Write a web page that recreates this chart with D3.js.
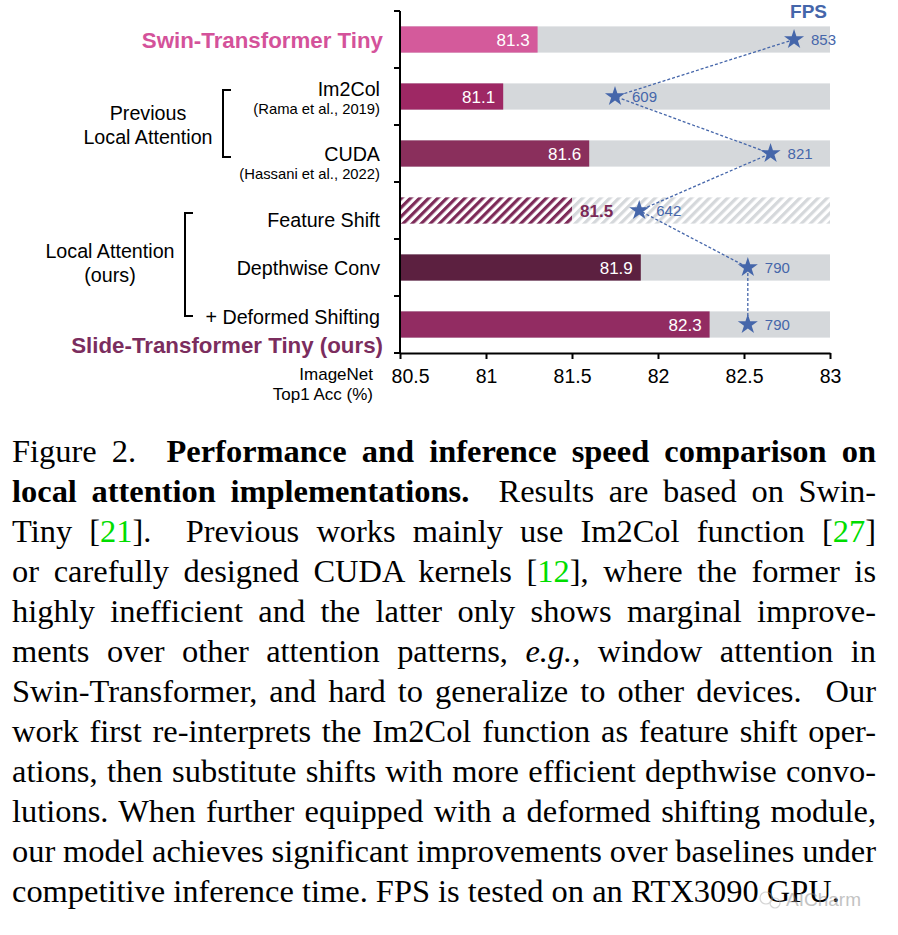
<!DOCTYPE html>
<html><head><meta charset="utf-8">
<script src="https://cdn.jsdelivr.net/npm/d3@7"></script>
<style>body{margin:0;background:#fff} svg{display:block}</style>
</head><body>
<svg id="c" width="898" height="935"></svg>
<script>
// ---------------- data ----------------
const categories = ["Swin-Transformer Tiny", "Im2Col", "CUDA", "Feature Shift", "Depthwise Conv", "+ Deformed Shifting"];
const accuracy = [81.3, 81.1, 81.6, 81.5, 81.9, 82.3];
const fps = [853, 609, 821, 642, 790, 790];
const xTicks = [80.5, 81, 81.5, 82, 82.5, 83];
const subLabels = ["", "(Rama et al., 2019)", "(Hassani et al., 2022)", "", "", ""];
const finalLabel = "Slide-Transformer Tiny (ours)";
const groupPrev = ["Previous", "Local Attention"];
const groupOurs = ["Local Attention", "(ours)"];
const axisTitle = ["ImageNet", "Top1 Acc (%)"];
const fpsTitle = "FPS";
const captionLines = [
  [["Figure 2.  ", "n"], ["Performance and inference speed comparison on", "b"]],
  [["local attention implementations.", "b"], ["  Results are based on Swin-", "n"]],
  [["Tiny [", "n"], ["21", "g"], ["].  Previous works mainly use Im2Col function [", "n"], ["27", "g"], ["]", "n"]],
  [["or carefully designed CUDA kernels [", "n"], ["12", "g"], ["], where the former is", "n"]],
  [["highly inefficient and the latter only shows marginal improve-", "n"]],
  [["ments over other attention patterns, ", "n"], ["e.g.,", "i"], [" window attention in", "n"]],
  [["Swin-Transformer, and hard to generalize to other devices.  Our", "n"]],
  [["work first re-interprets the Im2Col function as feature shift oper-", "n"]],
  [["ations, then substitute shifts with more efficient depthwise convo-", "n"]],
  [["lutions. When further equipped with a deformed shifting module,", "n"]],
  [["our model achieves significant improvements over baselines under", "n"]],
  [["competitive inference time. FPS is tested on an RTX3090 GPU.", "n"]]
];

// ---------------- styles ----------------
const barColors = ["#d45a9b", "#9e2864", "#8a2f5c", "#7d2a58", "#5c2040", "#922c62"];
const greyBg = "#d5d8db";
const blue = "#4566aa";
const sans = "'Liberation Sans', Arial, sans-serif";
const serif = "'Liberation Serif', 'Times New Roman', serif";
const labelDy = [0, -8, 0, 9, 0, -8];
const subDy = [0, 12.5, 20.5, 0, 0, 0];

const svg = d3.select("#c");
const defs = svg.append("defs");
function hatch(id, color) {
  const p = defs.append("pattern").attr("id", id).attr("patternUnits", "userSpaceOnUse")
    .attr("width", 6.4).attr("height", 6.4).attr("patternTransform", "rotate(45)");
  p.append("rect").attr("width", 6.4).attr("height", 6.4).attr("fill", "#fff");
  p.append("rect").attr("width", 3.2).attr("height", 6.4).attr("fill", color);
}
hatch("hDark", barColors[3]);
hatch("hGrey", greyBg);

// ---------------- scales ----------------
const x = d3.scaleLinear().domain([80.5, 83]).range([400, 830]);
const y = d3.scaleBand().domain(categories).range([11, 353]).paddingInner(0.54).paddingOuter(0.27);
const fpsX = d3.scaleLinear().domain([316, 902]).range([400, 830]);
const bw = y.bandwidth();
const cy = c => y(c) + bw / 2;

const rows = categories.map((c, i) => ({c, i, acc: accuracy[i], fps: fps[i]}));

// background bars
svg.append("g").selectAll("rect").data(rows).join("rect")
  .attr("x", x(80.5)).attr("y", d => y(d.c)).attr("height", bw)
  .attr("width", x(83) - x(80.5))
  .attr("fill", d => d.i === 3 ? "url(#hGrey)" : greyBg);

// value bars
svg.append("g").selectAll("rect").data(rows).join("rect")
  .attr("x", x(80.5)).attr("y", d => y(d.c)).attr("height", bw)
  .attr("width", d => x(d.acc) - x(80.5))
  .attr("fill", d => d.i === 3 ? "url(#hDark)" : barColors[d.i]);

// value labels
svg.append("g").selectAll("text").data(rows).join("text")
  .attr("x", d => d.i === 3 ? x(d.acc) + 8 : x(d.acc) - 8)
  .attr("y", d => cy(d.c)).attr("dy", "0.36em")
  .attr("text-anchor", d => d.i === 3 ? "start" : "end")
  .attr("font-family", sans).attr("font-size", 17)
  .attr("font-weight", d => d.i === 3 ? "bold" : "normal")
  .attr("fill", d => d.i === 3 ? "#7b2a58" : "#fff")
  .text(d => d.acc.toFixed(1));

// FPS line + stars
svg.append("path").datum(rows)
  .attr("d", d3.line().x(d => fpsX(d.fps)).y(d => cy(d.c)))
  .attr("fill", "none").attr("stroke", blue).attr("stroke-width", 1.3).attr("stroke-dasharray", "3,2");
svg.append("g").selectAll("path").data(rows).join("path")
  .attr("d", d3.symbol(d3.symbolStar, 125))
  .attr("transform", d => `translate(${fpsX(d.fps)},${cy(d.c)})`)
  .attr("fill", blue);
svg.append("g").selectAll("text").data(rows).join("text")
  .attr("x", d => fpsX(d.fps) + 17).attr("y", d => cy(d.c)).attr("dy", "0.36em")
  .attr("font-family", sans).attr("font-size", 15).attr("fill", blue)
  .text(d => d.fps);
svg.append("text").attr("x", 827).attr("y", 18).attr("text-anchor", "end")
  .attr("font-family", sans).attr("font-size", 19).attr("font-weight", "bold").attr("fill", blue)
  .text(fpsTitle);

// x axis
const xa = svg.append("g").attr("transform", "translate(0,353)")
  .call(d3.axisBottom(x).tickValues(xTicks).tickSize(6).tickSizeOuter(0).tickPadding(10).tickFormat(d3.format("")));
xa.select(".domain").attr("stroke", "#000").attr("stroke-width", 2);
xa.selectAll(".tick line").attr("stroke", "#000").attr("stroke-width", 2);
xa.selectAll(".tick text").attr("font-family", sans).attr("font-size", 19.5).attr("fill", "#000")
  .attr("dx", (d, i) => i === 0 ? 10 : 0);

// y axis line and ticks at band boundaries
const y0 = y.range()[0], step = y.step();
svg.append("line").attr("x1", x(80.5)).attr("x2", x(80.5)).attr("y1", y0).attr("y2", y0 + step * categories.length)
  .attr("stroke", "#000").attr("stroke-width", 2);
svg.append("g").selectAll("line").data(d3.range(categories.length + 1)).join("line")
  .attr("x1", x(80.5) - 6).attr("x2", x(80.5)).attr("y1", i => y0 + i * step).attr("y2", i => y0 + i * step)
  .attr("stroke", "#000").attr("stroke-width", 2);

// category labels
svg.append("g").selectAll("text").data(rows).join("text")
  .attr("x", d => d.i === 0 ? 383 : 380)
  .attr("y", d => cy(d.c) + labelDy[d.i]).attr("dy", "0.36em")
  .attr("text-anchor", "end").attr("font-family", sans)
  .attr("font-size", d => d.i === 0 ? 22.3 : 19.7)
  .attr("font-weight", d => d.i === 0 ? "bold" : "normal")
  .attr("fill", d => d.i === 0 ? "#d4529a" : "#000")
  .text(d => d.c);
svg.append("g").selectAll("text").data(rows.filter(d => subLabels[d.i])).join("text")
  .attr("x", 380).attr("y", d => cy(d.c) + subDy[d.i]).attr("dy", "0.36em")
  .attr("text-anchor", "end").attr("font-family", sans).attr("font-size", 14.8).attr("fill", "#000")
  .text(d => subLabels[d.i]);
svg.append("text").attr("x", 383).attr("y", cy(categories[5]) + 20).attr("dy", "0.36em")
  .attr("text-anchor", "end").attr("font-family", sans).attr("font-size", 22.3).attr("font-weight", "bold")
  .attr("fill", "#7b2d5e").text(finalLabel);

// group labels & brackets
function group(lines, cx, cyTop, bx, by1, by2) {
  lines.forEach((t, k) => svg.append("text").attr("x", cx).attr("y", cyTop + k * 24).attr("dy", "0.36em")
    .attr("text-anchor", "middle").attr("font-family", sans).attr("font-size", 19.7).attr("fill", "#000").text(t));
  svg.append("path").attr("d", `M${bx + 8},${by1}H${bx}V${by2}H${bx + 8}`)
    .attr("fill", "none").attr("stroke", "#000").attr("stroke-width", 2);
}
group(groupPrev, 148, 113, 223, cy(categories[1]) - 6.5, cy(categories[2]) + 3.5);
group(groupOurs, 110, 251, 185, cy(categories[3]) + 2.5, cy(categories[5]) - 8.5);

// axis title
axisTitle.forEach((t, k) => svg.append("text").attr("x", 373).attr("y", 374 + k * 20).attr("dy", "0.36em")
  .attr("text-anchor", "end").attr("font-family", sans).attr("font-size", 17).attr("fill", "#000").text(t));

// ---------------- caption ----------------
const cap = svg.append("g");
const styleOf = s => ({
  weight: s === "b" ? "bold" : "normal",
  style: s === "i" ? "italic" : "normal",
  fill: s === "g" ? "#00dd00" : "#000"
});
function makeLine(g, segs, yy) {
  const t = g.append("text").attr("x", 0).attr("y", yy)
    .attr("font-family", serif).attr("font-size", 31.5).attr("xml:space", "preserve")
    .style("white-space", "pre");
  segs.forEach(([txt, s]) => {
    const st = styleOf(s);
    t.append("tspan").attr("font-weight", st.weight).attr("font-style", st.style).attr("fill", st.fill).text(txt);
  });
  return t;
}
const probe = makeLine(cap, captionLines[captionLines.length - 1], -100);
const sx = 828 / probe.node().getComputedTextLength();
probe.remove();
cap.attr("transform", `translate(12,0) scale(${sx},1)`);
const target = 864 / sx;
captionLines.forEach((segs, i) => {
  const t = makeLine(cap, segs, 462 + i * 40);
  if (i < captionLines.length - 1) {
    const w = t.node().getComputedTextLength();
    const n = segs.map(s => s[0]).join("").split(" ").length - 1;
    t.style("word-spacing", ((target - w) / n) + "px");
  }
});

// watermark
const wm = svg.append("g").attr("opacity", 0.5);
wm.append("circle").attr("cx", 766).attr("cy", 898).attr("r", 6).attr("fill", "none").attr("stroke", "#aaa").attr("stroke-width", 1.2);
wm.append("circle").attr("cx", 775).attr("cy", 903).attr("r", 5).attr("fill", "none").attr("stroke", "#aaa").attr("stroke-width", 1.2);
wm.append("text").attr("x", 786).attr("y", 906).attr("font-family", sans).attr("font-size", 19).attr("fill", "#888").text("AICharm");
</script>
</body></html>
